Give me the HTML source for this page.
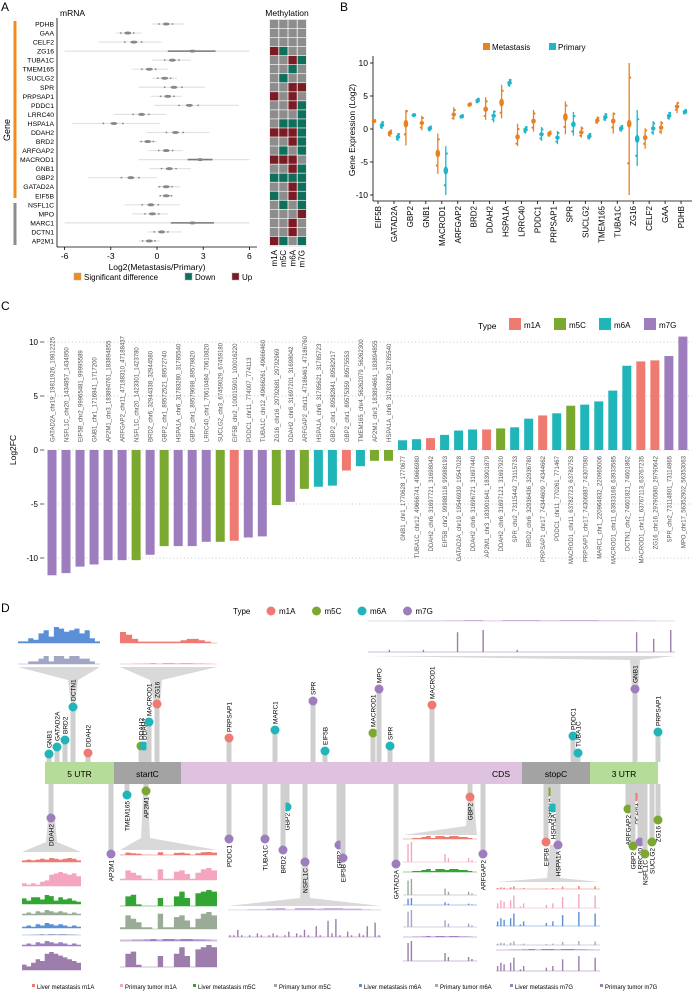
<!DOCTYPE html>
<html><head><meta charset="utf-8">
<style>
html,body{margin:0;padding:0;background:#fff}
svg{display:block;font-family:"Liberation Sans",Arial,sans-serif}
</style></head>
<body>
<svg id="fig" width="692" height="992" viewBox="0 0 692 992" xmlns="http://www.w3.org/2000/svg">
<g id="A"></g>
<g id="B"></g>
<g id="C"></g>
<g id="D"></g>
</svg>
<script>
// ---------- Panel A data ----------
const aGenes=["PDHB","GAA","CELF2","ZG16","TUBA1C","TMEM165","SUCLG2","SPR","PRPSAP1","PDDC1","LRRC40","HSPA1A","DDAH2","BRD2","ARFGAP2","MACROD1","GNB1","GBP2","GATAD2A","EIF5B","NSFL1C","MPO","MARC1","DCTN1","AP2M1"];
const aCenter=[0.6,-1.9,-1.5,2.3,1.0,-0.5,0.5,1.1,0.7,2.1,-1.0,-2.8,1.2,-0.6,0.6,2.8,0.8,-1.7,0.6,0.6,-0.4,-0.3,2.3,0.3,-0.5];
const aLo=[-0.3,-2.7,-3.8,-6,-0.3,-1.6,-0.3,-1.2,-0.4,-0.2,-2.8,-5.5,-0.7,-1.2,-0.6,-1.2,-0.5,-4.5,0,0.3,-2.1,-1.6,-6,-0.6,-1.2];
const aHi=[1.8,-1,0.3,6,2.2,0.7,1.3,3.1,1.6,5.3,0.6,0.2,3.4,0,1.7,6,2.2,0,1.5,1,1.5,0.7,6,1.6,0.2];
const aBoxLo=[0,0,0,0.7,0,0,0,0,0,0,0,0,0,0,0,2.0,0,0,0,0,0,0,0.9,0,0];
const aBoxHi=[0,0,0,3.8,0,0,0,0,0,0,0,0,0,0,0,3.6,0,0,0,0,0,0,3.7,0,0];
const aTicks=[-6,-3,0,3,6];
const heatCols=["m1A","m5C","m6A","m7G"];
const heatRows=["GGGG","GGGG","GGGG","UDGG","GGUD","GGDG","GDGG","GGUU","UGUG","GGUD","GGGD","GDDD","UUUD","GGUD","GDGD","UUUG","GGUD","DDDD","GGUD","DGUD","GDGD","GGGU","GGUG","GGUG","UDGD"];
// ---------- Panel B data ----------
const bGenes=["EIF5B","GATAD2A","GBP2","GNB1","MACROD1","ARFGAP2","BRD2","DDAH2","HSPA1A","LRRC40","PDDC1","PRPSAP1","SPR","SUCLG2","TMEM165","TUBA1C","ZG16","CELF2","GAA","PDHB"];
const bMetC=[1.2,-0.6,0.8,0.9,-3.7,2.2,3.7,3,4,-1.2,1.2,-0.7,1.8,-0.5,1.3,1.2,0.8,-1.3,0.2,3.4];
const bMetLo=[1,-1.2,-2.5,-0.2,-6.8,1.4,3.4,1.4,1.6,-2.6,-0.4,-1.2,-0.8,-1.3,0.8,-0.7,-10,-3,-0.8,2.4];
const bMetHi=[1.4,-0.2,2.9,2,-0.7,3.3,4,4.8,6.7,0.8,2.9,-0.3,4.2,0.4,1.9,2.5,10,0.1,1.2,4];
const bPriC=[0.6,-1.2,2.1,0.1,-6.3,1.9,4.3,2,7,-0.1,-0.8,-1.3,0.7,-1.1,1.8,0.1,-1.5,0.1,2,2.6];
const bPriLo=[0,-1.8,1.9,-0.4,-10,1.6,3.9,1,6.4,-0.7,-1.8,-2.3,-1,-1.6,1.2,-0.4,-5.6,-0.9,1.4,2.2];
const bPriHi=[1.2,-0.6,2.2,0.4,-2.6,2.2,4.7,2.8,7.6,0.4,0.3,-0.3,2.6,-0.6,2.4,0.6,2.9,1.2,2.6,3];
const bTicks=[10,5,0,-5,-10];
// ---------- Panel C data ----------
const cLabels=["GATAD2A_chr19_19811926_19812225","NSFL1C_chr20_1434857_1434950","EIF5B_chr2_99965481_99995589","GNB1_chr1_1716841_1717200","AP2M1_chr3_183894761_183894855","ARFGAP2_chr11_47188310_47188437","NSFL1C_chr20_1423301_1423780","BRD2_chr6_32944338_32944580","GBP2_chr1_89572521_89572740","HSPA1A_chr6_31783280_31785540","GBP2_chr1_89579698_89579820","LRRC40_chr1_70610484_70610820","SUCLG2_chr3_67459029_67459180","EIF5B_chr2_100015901_100016220","PDDC1_chr11_774007_774113","TUBA1C_chr12_49666261_49666460","ZG16_chr16_29792681_29792969","DDAH2_chr6_31697201_31698042","ARFGAP2_chr11_47186461_47186760","HSPA1A_chr6_31785621_31785723","GBP2_chr1_89582841_89582917","GBP2_chr1_89575359_89575553","TMEM165_chr4_56262079_56262300","AP2M1_chr3_183894661_183894855","HSPA1A_chr6_31783280_31785540","GNB1_chr1_1770628_1770677","TUBA1C_chr12_49666741_49666980","DDAH2_chr6_31697721_31698042","EIF5B_chr2_99988118_99988193","GATAD2A_chr19_19546939_19547028","DDAH2_chr6_31696721_31697440","AP2M1_chr3_183901641_183901879","DDAH2_chr6_31697121_31697920","SPR_chr2_73115442_73115733","BRD2_chr6_32936436_32936780","PRPSAP1_chr17_74344609_74344662","PDDC1_chr11_770261_771467","MACROD1_chr11_63782723_63782753","PRPSAP1_chr17_74306887_74307080","MARC1_chr1_220964832_220965006","MACROD1_chr11_63933168_63933585","DCTN1_chr2_74601821_74601862","MACROD1_chr11_63767113_63767235","ZG16_chr16_29790580_29790642","SPR_chr2_73114801_73114865","MPO_chr17_56352902_56353063"];
const cValues=[-11.6,-11.4,-10.8,-10.6,-10.2,-10.2,-10.2,-9.7,-8.9,-8.9,-8.9,-8.5,-8.5,-8.4,-8.1,-8.0,-5.1,-4.8,-3.6,-3.4,-3.3,-1.9,-1.5,-1.0,-1.0,0.9,1.0,1.1,1.4,1.8,1.9,1.9,2.0,2.1,2.9,3.2,3.4,4.1,4.2,4.5,5.5,7.8,8.2,8.3,8.7,10.5];
const cTypes=["m7G","m7G","m7G","m7G","m7G","m7G","m5C","m7G","m5C","m7G","m7G","m7G","m5C","m1A","m7G","m7G","m5C","m7G","m5C","m6A","m6A","m1A","m6A","m5C","m5C","m6A","m6A","m1A","m6A","m6A","m6A","m1A","m5C","m6A","m6A","m1A","m6A","m5C","m6A","m6A","m6A","m6A","m1A","m1A","m7G","m7G"];
const cTicks=[10,5,0,-5,-10];
// ---------- Panel D data ----------
const dTopLabels=["GNB1","GATAD2A","BRD2","DCTN1","DDAH2","DDAH2","DDAH2","MACROD1","ZG16","PRPSAP1","MARC1","SPR","EIF5B","MACROD1","MPO","SPR","MACROD1","PDDC1","TUBA1C","GNB1","PRPSAP1"];
const dTopPos=[49,57,65,73,88,141,144,149,157,229,275,313,325,373,379,390,432,573,578,635,658];
const dTopHeight=[8,15,22,55,9,16,16,40,58,24,32,61,11,29,73,16,57,26,9,73,30];
const dTopTypes=["m6A","m6A","m6A","m6A","m1A","m5C","m6A","m6A","m1A","m1A","m6A","m7G","m6A","m5C","m7G","m6A","m1A","m6A","m6A","m7G","m6A"];
const dBotLabels=["DDAH2","AP2M1","TMEM165","AP2M1","PDDC1","TUBA1C","GBP2","BRD2","NSFL1C","GBP2","EIF5B","GATAD2A","GBP2","ARFGAP2","HSPA1A","HSPA1A","EIF5B","HSPA1A","AP2M1","ARFGAP2","GBP2","LRRC40","NSFL1C","SUCLG2","ZG16"];
const dBotPos=[51,111,127,146,229,265,287,283,305,339,343,396,470,483,549,553,546,558,635,628,633,640,645,652,658];
const dBotDepth=[34,70,11,7,55,55,23,66,78,61,74,80,13,70,8,24,58,61,13,25,62,58,70,58,36];
const dBotTypes=["m7G","m7G","m6A","m5C","m7G","m7G","m6A","m7G","m7G","m7G","m7G","m7G","m1A","m7G","m5C","m6A","m1A","m7G","m1A","m5C","m5C","m7G","m5C","m5C","m5C"];
const dRegions=["5 UTR","startC","CDS","stopC","3 UTR"];
const dRegionStart=[45,114,181,522,590];
const dRegionEnd=[114,181,522,590,658];
const trackA=[1,1,3,2,6,8,4,10,9,7,8,9,6,8,3,1];
const trackB=[0,0,1,1,2,3,1,3,3,2,3,3,2,2,1,0];
const trackC=[8,6,3,1,1,1,1,1,1,1,2,3,3,2,1,0];
const trackSpike=[0,0,1,0,0,0,1,0,0,0,9,0,0,10,0,0,0,1,0,0,0,0,0,0,0,0,0,0,0,0,0,9,0,6,0,10];
const trackD=[2,3,2,3,4,3,5,4,3,4,5,4,2];
const trackE=[2,1,2,1,3,4,8,9,10,9,8,9,7];
const trackF=[5,3,6,6,4,8,7,3,6,4,5,3,2];
const trackG=[1,2,1,3,2,4,3,2,3,2,1,2,1];
const trackH=[3,2,4,6,5,9,10,9,8,7,6,5,4];
const trackI=[1,8,6,4,1,1,0,9,1,1,7,8,5,1,6,9,10,8];
const trackJ=[0,6,7,1,0,0,0,5,0,0,6,9,5,0,8,9,10,9];
const trackK=[1,1,4,1,0,1,0,2,1,0,1,2,1,0,1,3,0,2,1,4,1,0,6,1,0,9,2,10,1,0,3,1,0,2,1,6,0,8,1];
const trackL=[0,9,10,0,0,0,0,0,0,0,0,0,4,2,0,0,0,0,0,2,1,0];
const trackM=[3,5,4,0,5,8,0,1,3,0,0,0,0,0,0,2,0,3,0,0,7,0,0,0,0,9,0,0,0,0,8,0];

const NS="http://www.w3.org/2000/svg";
function mk(parent,tag,attrs,name,txt){const e=document.createElementNS(NS,tag);for(const k in attrs)e.setAttribute(k,attrs[k]);


if(txt!==undefined)e.textContent=txt;parent.appendChild(e);return e;}
const typeColor={m1A:"#ef7a72",m5C:"#7ba82e",m6A:"#20b5b9",m7G:"#9d7dbd"};

// ---------- Panel A ----------
(function(){
const g=document.getElementById('A');
mk(g,'text',{x:1,y:11,'font-size':12},'panel-label-a','A');
mk(g,'text',{x:60,y:16,'font-size':8.5},'mrna-title','mRNA');
mk(g,'text',{x:287,y:16,'font-size':8.5,'text-anchor':'middle'},'methylation-title','Methylation');
const xs=v=>157+v*15.4, ys=i=>24+i*9.04;
mk(g,'rect',{x:13.5,y:21,width:3,height:177,fill:'#f08c1e'},'significant-bar');
mk(g,'rect',{x:13.5,y:203,width:3,height:42,fill:'#8c8c8c'},'nonsignificant-bar');
mk(g,'text',{transform:'translate(10,130) rotate(-90)','font-size':9,'text-anchor':'middle'},'y-axis-title','Gene');
mk(g,'line',{x1:57,y1:18,x2:57,y2:247,stroke:'#000','stroke-width':0.8},'y-axis-line');
mk(g,'line',{x1:57,y1:247,x2:257,y2:247,stroke:'#000','stroke-width':0.8},'x-axis-line');
aTicks.forEach(t=>{mk(g,'line',{x1:xs(t),y1:247,x2:xs(t),y2:250,stroke:'#000','stroke-width':0.8},'x-tick');
mk(g,'text',{x:xs(t),y:259,'font-size':8.5,'text-anchor':'middle'},'x-tick-label',t);});
mk(g,'text',{x:157,y:270,'font-size':8.5,'text-anchor':'middle'},'x-axis-title','Log2(Metastasis/Primary)');
aGenes.forEach((n,i)=>{const y=ys(i);
mk(g,'text',{x:54,y:y+2.5,'font-size':6.8,'text-anchor':'end'},'gene-label',n);
mk(g,'line',{x1:xs(aLo[i]),y1:y,x2:xs(aHi[i]),y2:y,stroke:'#e2e2e2','stroke-width':1.2},'gene-range');
if(aBoxHi[i]>aBoxLo[i])mk(g,'line',{x1:xs(aBoxLo[i]),y1:y,x2:xs(aBoxHi[i]),y2:y,stroke:'#777','stroke-width':1.6},'gene-box');
mk(g,'ellipse',{cx:xs(aCenter[i]),cy:y,rx:3.5,ry:1.5,fill:'#888'},'gene-median');
[-0.35,0.3].forEach(d=>mk(g,'circle',{cx:xs(aCenter[i]+d*(1+Math.abs(aHi[i]-aLo[i])/6)),cy:y,r:0.9,fill:'#888'},'gene-point'));
heatRows[i].split('').forEach((c,j)=>{mk(g,'rect',{x:270+j*9.2,y:y-4.2,width:8.4,height:8.4,fill:c==='G'?'#8d8d8d':c==='D'?'#0f6f5d':'#7b1b24'},'heat-cell-'+heatCols[j]);});
});
mk(g,'rect',{x:269.5,y:19.5,width:37,height:227,fill:'none',stroke:'#ddd','stroke-width':0.5},'heatmap-frame');
heatCols.forEach((c,j)=>mk(g,'text',{transform:`translate(${277+j*9.2},250) rotate(-90)`,'font-size':8,'text-anchor':'end'},'heat-col-label',c));
const lg=[[74,'#f08c1e','Significant difference'],[185,'#0f6f5d','Down'],[232,'#7b1b24','Up']];
lg.forEach(l=>{mk(g,'rect',{x:l[0],y:273,width:7,height:7,fill:l[1],stroke:'#aaa','stroke-width':0.5},'legend-swatch');
mk(g,'text',{x:l[0]+10,y:280,'font-size':8},'legend-label',l[2]);});
})();

// ---------- Panel B ----------
(function(){
const g=document.getElementById('B');
mk(g,'text',{x:340,y:11,'font-size':12},'panel-label-b','B');
const ys=v=>129-v*6.6, xs=i=>378+i*15.95;
mk(g,'text',{transform:'translate(355,130) rotate(-90)','font-size':8.5,'text-anchor':'middle'},'y-axis-title','Gene Expression (Log2)');
mk(g,'line',{x1:373,y1:56,x2:373,y2:201,stroke:'#000','stroke-width':0.8},'y-axis-line');
mk(g,'line',{x1:373,y1:201,x2:692,y2:201,stroke:'#000','stroke-width':0.8},'x-axis-line');
bTicks.forEach(t=>{mk(g,'line',{x1:370,y1:ys(t),x2:373,y2:ys(t),stroke:'#000','stroke-width':0.8},'y-tick');
mk(g,'text',{x:368,y:ys(t)+3,'font-size':8.5,'text-anchor':'end'},'y-tick-label',t);});
bGenes.forEach((n,i)=>{const x=xs(i);
mk(g,'line',{x1:x,y1:201,x2:x,y2:204,stroke:'#000','stroke-width':0.8},'x-tick');
mk(g,'text',{transform:`translate(${x+3},206) rotate(-90)`,'font-size':8,'text-anchor':'end'},'x-tick-label',n);
[[x-4,bMetC,bMetLo,bMetHi,'#e8821e','metastasis'],[x+4,bPriC,bPriLo,bPriHi,'#1fb6c9','primary']].forEach(s=>{
mk(g,'line',{x1:s[0],y1:ys(s[2][i]),x2:s[0],y2:ys(s[3][i]),stroke:s[4],'stroke-width':1.3},s[5]+'-range');
mk(g,'ellipse',{cx:s[0],cy:ys(s[1][i]),rx:2.3,ry:Math.min(4,Math.max(2,Math.abs(s[3][i]-s[2][i])*0.8)),fill:s[4]},s[5]+'-violin');
[-0.3,0.35].forEach(d=>mk(g,'circle',{cx:s[0]+(d>0?1:-1),cy:ys(s[1][i]+d*(s[3][i]-s[2][i])),r:1.1,fill:s[4]},s[5]+'-point'));
});});
mk(g,'rect',{x:483,y:43,width:7,height:7,fill:'#e8821e'},'legend-swatch-metastasis');
mk(g,'text',{x:492,y:50,'font-size':8},'legend-label','Metastasis');
mk(g,'rect',{x:549,y:43,width:7,height:7,fill:'#1fb6c9'},'legend-swatch-primary');
mk(g,'text',{x:558,y:50,'font-size':8},'legend-label','Primary');
})();

// ---------- Panel C ----------
(function(){
const g=document.getElementById('C');
mk(g,'text',{x:1,y:310,'font-size':12},'panel-label-c','C');
const ys=v=>450-v*10.8, xs=i=>52+i*14.02;
mk(g,'text',{transform:'translate(16,450) rotate(-90)','font-size':8.5,'text-anchor':'middle'},'y-axis-title','Log2FC');
cTicks.forEach(t=>{mk(g,'line',{x1:44,y1:ys(t),x2:692,y2:ys(t),stroke:'#bbb','stroke-width':0.8,'stroke-dasharray':'1 2.5'},'gridline');
mk(g,'line',{x1:40,y1:ys(t),x2:44,y2:ys(t),stroke:'#444','stroke-width':0.8},'y-tick');
mk(g,'text',{x:38,y:ys(t)+3,'font-size':8,'text-anchor':'end'},'y-tick-label',t);});
cValues.forEach((v,i)=>{const x=xs(i);
mk(g,'rect',{x:x-4.5,y:Math.min(ys(0),ys(v)),width:9,height:Math.abs(ys(v)-ys(0)),fill:typeColor[cTypes[i]]},'bar-'+cTypes[i]);
if(v<0)mk(g,'text',{transform:`translate(${x+2.5},442) rotate(-90)`,'font-size':6,'fill':'#555'},'bar-label',cLabels[i]);
else mk(g,'text',{transform:`translate(${x+2.5},456) rotate(-90)`,'font-size':6,'fill':'#555','text-anchor':'end'},'bar-label',cLabels[i]);});
mk(g,'text',{x:478,y:329,'font-size':8.5},'legend-title','Type');
['m1A','m5C','m6A','m7G'].forEach((t,j)=>{const x=509+j*45;
mk(g,'rect',{x:x,y:318,width:12,height:12,fill:typeColor[t]},'legend-swatch-'+t);
mk(g,'text',{x:x+15,y:328,'font-size':8},'legend-label',t);});
})();

// ---------- Panel D ----------
(function(){
const g=document.getElementById('D');
mk(g,'text',{x:1,y:612,'font-size':12},'panel-label-d','D');
mk(g,'text',{x:233,y:614,'font-size':8},'legend-title','Type');
['m1A','m5C','m6A','m7G'].forEach((t,j)=>{const x=271+j*45.5;
mk(g,'circle',{cx:x,cy:611,r:4.5,fill:typeColor[t]},'legend-dot-'+t);
mk(g,'text',{x:x+8,y:614,'font-size':8},'legend-label',t);});
function track(x,y,w,h,vals,color,name,spike){const bw=w/vals.length;const mx=Math.max(...vals)||1;
if(spike){vals.forEach((v,i)=>{if(v>0){const hh=v/mx*h;mk(g,'rect',{x:x+i*bw+bw/2-0.7,y:y-hh,width:1.4,height:hh,fill:color},name+'-spike');}});}
else{let d=`M${x},${y}`;
vals.forEach((v,i)=>{const hh=v/mx*h;d+=` L${x+i*bw},${y-hh} L${x+(i+1)*bw},${y-hh}`;});d+=` L${x+w},${y} Z`;
mk(g,'path',{d:d,fill:color},name);}
mk(g,'line',{x1:x,y1:y,x2:x+w,y2:y,stroke:color,'stroke-width':0.6},name+'-baseline');}
function funnel(pts,name){mk(g,'polygon',{points:pts,fill:'#d9d9d9'},name);}
funnel('18,667 100,667 78,680 75,705 71,705 68,680','funnel-5utr');
funnel('120,667 217,667 162,680 160,704 154,704 150,680','funnel-startc');
funnel('22,852 81,852 57,842 55,820 48,820 46,842','funnel-ddah2');
funnel('120,850 217,850 150,838 148,795 143,795 141,838','funnel-ap2m1');
funnel('228,906 381,906 310,898 308,862 302,862 300,898','funnel-nsfl1c');
funnel('403,835 477,835 476,826 474,797 468,797 466,826','funnel-gbp2');
funnel('496,882 600,882 560,878 557,845 550,845 547,878','funnel-hspa1a');
funnel('368,656 675,656 640,660 638,689 632,689 630,660','funnel-gnb1');
track(18,643,82,16,trackA,'#5b8fd6','track-liver-m6a');
track(18,664,82,8,trackB,'#a2a6c5','track-primary-m6a');
track(120,643,97,11,trackC,'#ef7a72','track-liver-m1a');
track(120,664,97,1,trackB,'#f4a6c0','track-primary-m1a');
track(368,621,307,1,trackB,'#c9b3dc','track-liver-m7g-gnb1');
track(368,652,307,22,trackSpike,'#9d7dab','track-primary-m7g-gnb1',true);
const L=[[trackD,'#ef7a72',4],[trackE,'#f4a6c0',14],[trackF,'#33a532',9],[trackG,'#9aab98',5],[trackG,'#5b8fd6',5],[trackB,'#a2a6c5',1],[trackG,'#a07ec4',5],[trackH,'#9d7dab',18]];
const names=['liver-m1a','primary-m1a','liver-m5c','primary-m5c','liver-m6a','primary-m6a','liver-m7g','primary-m7g'];
const yl=[862,886,904,915,928,935,946,970];
L.forEach((t,k)=>track(22,yl[k],59,t[2],t[0],t[1],'track-ddah2-'+names[k]));
const ym=[855,880,906,929,940,940,941,967];
const M=[[trackI,'#ef7a72',3],[trackI,'#f4a6c0',12],[trackJ,'#33a532',16],[trackI,'#9aab98',17],[trackB,'#a07ec4',1],[trackB,'#a2a6c5',0],[trackB,'#a07ec4',1],[trackJ,'#9d7dab',22]];
M.forEach((t,k)=>{if(k===5)return;track(120,ym[k],97,t[2],t[0],t[1],'track-ap2m1-'+names[k]);});
track(228,910,153,2,trackB,'#c9b3dc','track-nsfl1c-liver-m7g');
track(228,937,153,18,trackK,'#9d7dab','track-nsfl1c-primary-m7g',true);
const R=[[trackB,'#ef7a72',3,839],[trackL,'#f4a6c0',20,862],[trackB,'#33a532',3,872],[trackL,'#9aab98',16,895],[trackL,'#5b8fd6',7,905],[trackL,'#a2a6c5',17,927],[trackB,'#a07ec4',1,937],[trackL,'#9d7dab',20,961]];
R.forEach((t,k)=>track(403,t[3],74,t[2],t[0],t[1],'track-gbp2-'+names[k],t[0]===trackL));
const S=[[trackM,'#ef7a72',3,889],[trackM,'#f4a6c0',14,908],[trackM,'#5b8fd6',14,926],[trackM,'#a2a6c5',4,945],[trackB,'#a07ec4',1,950],[trackM,'#9d7dab',15,971]];
S.forEach((t,k)=>track(496,t[3],104,t[2],t[0],t[1],'track-hspa1a-'+k,t[0]===trackM));
dTopPos.forEach((x,i)=>{const y=762-dTopHeight[i];
mk(g,'rect',{x:x-2.5,y:y,width:5,height:762-y,fill:'#cfcfcf'},'stem-top');
mk(g,'circle',{cx:x,cy:y,r:4.5,fill:typeColor[dTopTypes[i]]},'site-dot-'+dTopTypes[i]);
mk(g,'text',{transform:`translate(${x+2.3},${y-6}) rotate(-90)`,'font-size':6.5},'site-label',dTopLabels[i]);});
dBotPos.forEach((x,i)=>{const y=784+dBotDepth[i];
mk(g,'rect',{x:x-2.5,y:784,width:5,height:y-784,fill:'#cfcfcf'},'stem-bottom');
mk(g,'circle',{cx:x,cy:y,r:4.5,fill:typeColor[dBotTypes[i]]},'site-dot-'+dBotTypes[i]);
mk(g,'text',{transform:`translate(${x+2.3},${y+6}) rotate(-90)`,'font-size':6.5,'text-anchor':'end'},'site-label',dBotLabels[i]);});
const rc=['#b5dc98','#a3a3a3','#dfc2df','#a3a3a3','#b5dc98'];
dRegions.forEach((r,i)=>{mk(g,'rect',{x:dRegionStart[i],y:762,width:dRegionEnd[i]-dRegionStart[i],height:22,fill:rc[i]},'region-'+r.replace(' ','-').toLowerCase());
const tx=i===2?dRegionEnd[i]-12:(dRegionStart[i]+dRegionEnd[i])/2;
mk(g,'text',{x:tx,y:777,'font-size':8.5,'text-anchor':i===2?'end':'middle'},'region-label',r);});
const bl=[[32,'#ef7a72','Liver metastasis m1A'],[120,'#f4a6c0','Primary tumor m1A'],[193,'#33a532','Liver metastasis m5C'],[274,'#9aab98','Primary tumor m5C'],[359,'#5b8fd6','Liver metastasis m6A'],[435,'#a2a6c5','Primary tumor m6A'],[510,'#a07ec4','Liver metastasis m7G'],[600,'#9d7dab','Primary tumor m7G']];
bl.forEach(b=>{mk(g,'rect',{x:b[0],y:984,width:3,height:3,fill:b[1]},'legend-swatch');
mk(g,'text',{x:b[0]+5,y:989,'font-size':6},'legend-label',b[2]);});
})();
</script>
</body></html>
